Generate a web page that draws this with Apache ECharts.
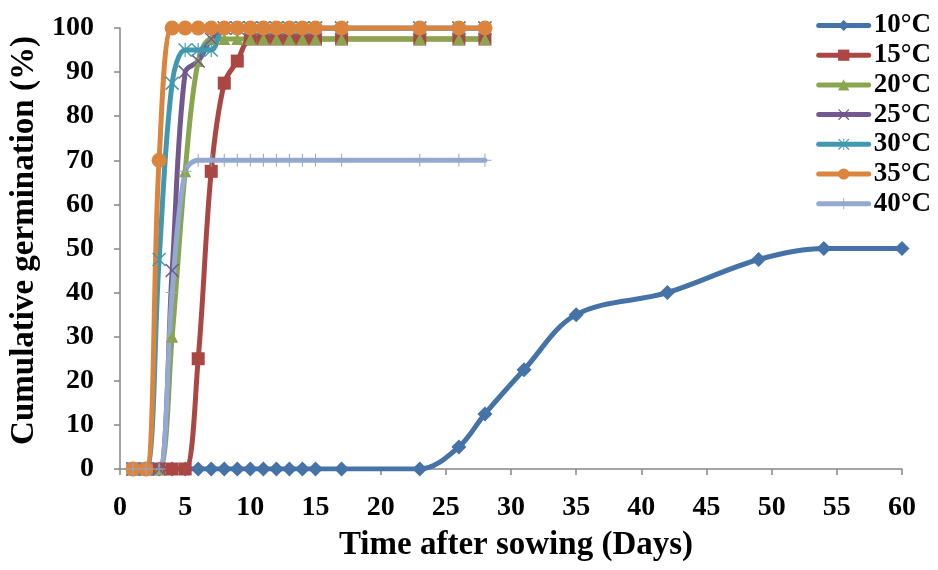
<!DOCTYPE html>
<html>
<head>
<meta charset="utf-8">
<script src="https://cdn.jsdelivr.net/npm/echarts@6/dist/echarts.min.js"></script>
<style>
html,body{margin:0;padding:0;background:#fff;}
#c{width:938px;height:570px;}
</style>
</head>
<body>
<div id="c"></div>
<script>
// ---- data ----
var seriesNames = ['10°C','15°C','20°C','25°C','30°C','35°C','40°C'];
var days10 = [1,2,3,4,5,6,7,8,9,10,11,12,13,14,15,17,23,26,28,31,35,42,49,54,60];
var daysOther = [1,2,3,4,5,6,7,8,9,10,11,12,13,14,15,17,23,26,28];
var v10 = [0,0,0,0,0,0,0,0,0,0,0,0,0,0,0,0,0,5,12.5,22.5,35,40,47.5,50,50];
var v15 = [0,0,0,0,0,25,67.5,87.5,92.5,97.5,97.5,97.5,97.5,97.5,97.5,97.5,97.5,97.5,97.5];
var v20 = [0,0,0,30,67.5,92.5,97.5,97.5,97.5,97.5,97.5,97.5,97.5,97.5,97.5,97.5,97.5,97.5,97.5];
var v25 = [0,0,0,45,90,92.5,97.5,100,100,100,100,100,100,100,100,100,100,100,100];
var v30 = [0,0,47.5,87.5,95,95,95,100,100,100,100,100,100,100,100,100,100,100,100];
var v35 = [0,0,70,100,100,100,100,100,100,100,100,100,100,100,100,100,100,100,100];
var v40 = [0,0,0,40,67.5,70,70,70,70,70,70,70,70,70,70,70,70,70,70];
var xTicks = [0,5,10,15,20,25,30,35,40,45,50,55,60];
var yTicks = [0,10,20,30,40,50,60,70,80,90,100];

var colors = ['#4572A7','#AA4643','#89A54E','#71588F','#4198AF','#DB843D','#93A9CF'];
var symX = 'path://M1.5,0 L20,18.5 L18.5,20 L0,1.5 Z M18.5,0 L20,1.5 L1.5,20 L0,18.5 Z';
var symAst = 'path://M1.5,0 L20,18.5 L18.5,20 L0,1.5 Z M18.5,0 L20,1.5 L1.5,20 L0,18.5 Z M9.2,0 L10.8,0 L10.8,20 L9.2,20 Z';
var symPlus = 'path://M9.2,0 L10.8,0 L10.8,20 L9.2,20 Z M0,9.2 L20,9.2 L20,10.8 L0,10.8 Z';
var symbols = ['diamond','rect','triangle',symX,symAst,'circle',symPlus];
var sizes = [15,13,12,14,14,15,13];

function pairs(xs, ys){ return xs.map(function(x,i){ return [x, ys[i]]; }); }
var allVals = [v10,v15,v20,v25,v30,v35,v40];

var series = seriesNames.map(function(n,i){
  return {
    name: n,
    type: 'line',
    smooth: 0.35,
    data: pairs(i===0 ? days10 : daysOther, allVals[i]),
    symbol: symbols[i],
    symbolSize: sizes[i],
    showAllSymbol: true,
    lineStyle: {width: 5, color: colors[i], cap: 'round', join: 'round'},
    itemStyle: {color: colors[i]},
    emphasis: {disabled: true}
  };
});

var font = 'Liberation Serif';
var chart = echarts.init(document.getElementById('c'), null, {renderer:'canvas'});
chart.setOption({
  animation: false,
  backgroundColor: '#fff',
  grid: {left: 120, right: 36, top: 28, bottom: 101, containLabel: false},
  xAxis: {
    type: 'value', min: 0, max: 60, interval: 5,
    name: 'Time after sowing (Days)', nameLocation: 'middle', nameGap: 60,
    nameTextStyle: {fontFamily: font, fontWeight: 'bold', fontSize: 33, color: '#000', padding: [0,0,0,10]},
    axisLine: {show: true, lineStyle: {color: '#868686', width: 1.5}},
    axisTick: {show: true, length: 6, lineStyle: {color: '#868686', width: 1.5}},
    axisLabel: {fontFamily: font, fontWeight: 'bold', fontSize: 28, color: '#000', margin: 25,
      formatter: function(v){ return xTicks.indexOf(v) >= 0 ? String(v) : ''; }},
    splitLine: {show: false}
  },
  yAxis: {
    type: 'value', min: 0, max: 100, interval: 10,
    name: 'Cumulative germination (%)', nameLocation: 'middle', nameGap: 78,
    nameTextStyle: {fontFamily: font, fontWeight: 'bold', fontSize: 33, color: '#000', padding: [0,0,0,16]},
    axisLine: {show: true, lineStyle: {color: '#868686', width: 1.5}},
    axisTick: {show: true, length: 6, lineStyle: {color: '#868686', width: 1.5}},
    axisLabel: {fontFamily: font, fontWeight: 'bold', fontSize: 28, color: '#000', margin: 26,
      formatter: function(v){ return yTicks.indexOf(v) >= 0 ? String(v) : ''; }},
    splitLine: {show: false}
  },
  legend: {
    data: seriesNames,
    orient: 'vertical',
    right: 2, top: 7,
    itemWidth: 50, itemHeight: 14, itemGap: 2.7,
    lineStyle: {width: 5, cap: 'round'},
    textStyle: {fontFamily: font, fontWeight: 'bold', fontSize: 27, color: '#000', padding: [0,0,0,0]}
  },
  series: series
});
</script>
</body>
</html>
